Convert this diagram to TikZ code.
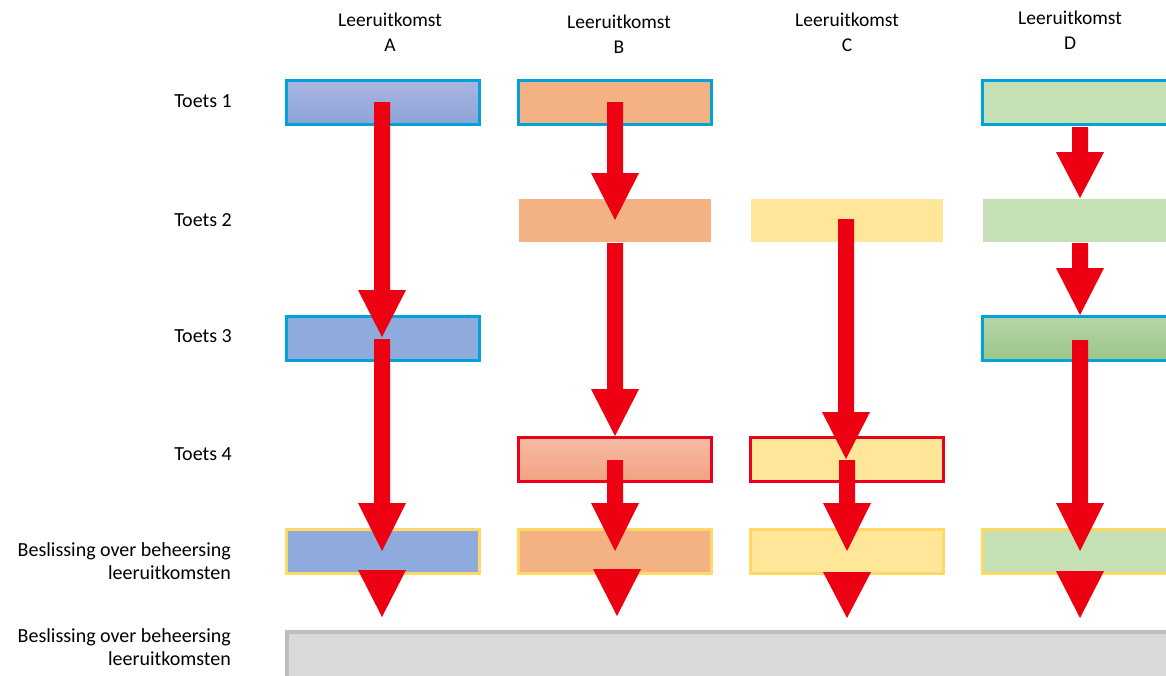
\documentclass[tikz,border=0pt]{standalone}
\usepackage{fontspec}
\setmainfont{Carlito}
\definecolor{arrowred}{RGB}{236,0,18}
\definecolor{blueline}{RGB}{0,162,218}
\definecolor{yelline}{RGB}{255,217,102}
\definecolor{redline}{RGB}{232,0,28}
\definecolor{grayline}{RGB}{191,191,191}
\definecolor{grayfill}{RGB}{217,217,217}
\definecolor{afill}{RGB}{143,170,220}
\definecolor{atop}{RGB}{169,182,224}
\definecolor{abot}{RGB}{140,163,216}
\definecolor{bfill}{RGB}{244,177,131}
\definecolor{btop}{RGB}{245,187,164}
\definecolor{bbot}{RGB}{243,162,130}
\definecolor{cfill}{RGB}{255,230,153}
\definecolor{dfill}{RGB}{197,224,180}
\definecolor{dtop}{RGB}{181,212,166}
\definecolor{dbot}{RGB}{156,198,138}
\newcommand\blockarr[4]{\fill[arrowred] (#1-8,#2) -- (#1+8,#2) -- (#1+8,#3) -- (#1+24,#3) -- (#1,#4) -- (#1-24,#3) -- (#1-8,#3) -- cycle;}
\newcommand\headarr[3]{\fill[arrowred] (#1-24,#2) -- (#1+24,#2) -- (#1,#3) -- cycle;}
\begin{document}
\begin{tikzpicture}[x=1pt,y=-1pt,
  lbl/.style={font=\fontsize{19.5}{24.5}\selectfont, inner sep=0pt},
  rlbl/.style={font=\fontsize{20}{23}\selectfont, inner sep=0pt},
  obox/.style={line width=3pt, minimum width=193pt, minimum height=44pt, inner sep=0pt},
  pbox/.style={minimum width=192pt, minimum height=43pt, inner sep=0pt, draw=none}]
\useasboundingbox (0,0) rectangle (1166,675);
\clip (0,0) rectangle (1166,675);
% headers
\node[lbl, align=center] (hA) at (390,32) {Leeruitkomst\\A};
\node[lbl, align=center] (hB) at (619,34) {Leeruitkomst\\B};
\node[lbl, align=center] (hC) at (847,32.5) {Leeruitkomst\\C};
\node[lbl, align=center] (hD) at (1070,30) {Leeruitkomst\\D};
% row labels
\node[rlbl, anchor=east] (t1) at (232,101) {Toets 1};
\node[rlbl, anchor=east] (t2) at (232,220) {Toets 2};
\node[rlbl, anchor=east] (t3) at (232,336) {Toets 3};
\node[rlbl, anchor=east] (t4) at (232,454) {Toets 4};
\node[rlbl, anchor=east, align=right] (bl1) at (231,561.5) {Beslissing over beheersing\\leeruitkomsten};
\node[rlbl, anchor=east, align=right] (bl2) at (231,647.5) {Beslissing over beheersing\\leeruitkomsten};
% column A
\node[obox, draw=blueline, top color=atop, bottom color=abot] (a1) at (383,102.5) {};
\node[obox, draw=blueline, fill=afill] (a3) at (383,338.5) {};
\node[obox, draw=yelline, fill=afill] (a5) at (383,551.5) {};
% column B
\node[obox, draw=blueline, fill=bfill] (b1) at (615,102.5) {};
\node[pbox, fill=bfill] (b2) at (615,220.5) {};
\node[obox, draw=redline, top color=btop, bottom color=bbot] (b4) at (615,459.5) {};
\node[obox, draw=yelline, fill=bfill] (b5) at (615,551.5) {};
% column C
\node[pbox, fill=cfill] (c2) at (847,220.5) {};
\node[obox, draw=redline, fill=cfill] (c4) at (847,459.5) {};
\node[obox, draw=yelline, fill=cfill] (c5) at (847,551.5) {};
% column D
\node[obox, draw=blueline, fill=dfill] (d1) at (1079,102.5) {};
\node[pbox, fill=dfill] (d2) at (1079,220.5) {};
\node[obox, draw=blueline, top color=dtop, bottom color=dbot] (d3) at (1079,338.5) {};
\node[obox, draw=yelline, fill=dfill] (d5) at (1079,551.5) {};
% bottom bar
\node[line width=4pt, draw=grayline, fill=grayfill, anchor=north west, minimum width=900pt, minimum height=60pt, inner sep=0pt] (bar) at (285,630) {};
% arrows
\blockarr{382}{102}{290}{337}
\blockarr{382}{339}{503}{551}
\headarr{382}{570}{617}
\blockarr{615}{102}{173}{220}
\blockarr{615}{243}{389}{436}
\blockarr{615}{460}{503}{551}
\headarr{617}{569}{616}
\blockarr{846}{219}{412}{459}
\blockarr{847}{460}{503}{551}
\headarr{847}{572}{618}
\blockarr{1080}{127}{152}{198}
\blockarr{1080}{243}{268}{315}
\blockarr{1080}{340}{503}{551}
\headarr{1080}{571}{618}
\end{tikzpicture}
\end{document}
